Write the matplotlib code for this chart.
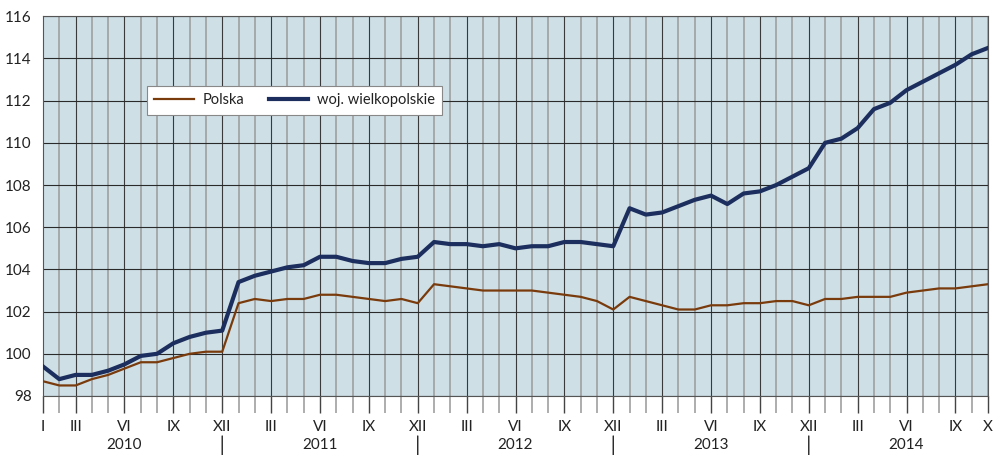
import matplotlib
matplotlib.use("Agg")
import matplotlib.pyplot as plt
import numpy as np

plt.rcParams['font.family'] = ['Lato', 'DejaVu Sans']

# 59 monthly points: I 2010 ... last point of 2014
polska = [98.7, 98.5, 98.5, 98.8, 99.0, 99.3, 99.6, 99.6, 99.8, 100.0, 100.1, 100.1,
          102.4, 102.6, 102.5, 102.6, 102.6, 102.8, 102.8, 102.7, 102.6, 102.5, 102.6, 102.4,
          103.3, 103.2, 103.1, 103.0, 103.0, 103.0, 103.0, 102.9, 102.8, 102.7, 102.5, 102.1,
          102.7, 102.5, 102.3, 102.1, 102.1, 102.3, 102.3, 102.4, 102.4, 102.5, 102.5, 102.3,
          102.6, 102.6, 102.7, 102.7, 102.7, 102.9, 103.0, 103.1, 103.1, 103.2, 103.3]
wlkp = [99.4, 98.8, 99.0, 99.0, 99.2, 99.5, 99.9, 100.0, 100.5, 100.8, 101.0, 101.1,
        103.4, 103.7, 103.9, 104.1, 104.2, 104.6, 104.6, 104.4, 104.3, 104.3, 104.5, 104.6,
        105.3, 105.2, 105.2, 105.1, 105.2, 105.0, 105.1, 105.1, 105.3, 105.3, 105.2, 105.1,
        106.9, 106.6, 106.7, 107.0, 107.3, 107.5, 107.1, 107.6, 107.7, 108.0, 108.4, 108.8,
        110.0, 110.2, 110.7, 111.6, 111.9, 112.5, 112.9, 113.3, 113.7, 114.2, 114.5]

tick_labels = ["I", "III", "VI", "IX", "XII",
               "III", "VI", "IX", "XII",
               "III", "VI", "IX", "XII",
               "III", "VI", "IX", "XII",
               "III", "VI", "IX", "X"]
tick_idx = [0, 2, 5, 8, 11, 14, 17, 20, 23, 26, 29, 32, 35, 38, 41, 44, 47, 50, 53, 56, 58]
years = ["2010", "2011", "2012", "2013", "2014"]
year_idx = [5, 17, 29, 41, 53]
year_sep_idx = [11, 23, 35, 47]

W, H = 994, 455
fig = plt.figure(figsize=(W / 100, H / 100), dpi=100)
ax = fig.add_axes([43 / W, 1 - 396 / H, (988 - 43) / W, (396 - 16.3) / H])
ax.set_facecolor('#CEDFE6')

x = np.arange(len(wlkp))
n = len(x)
ax.set_xlim(0, n - 1)
ax.set_ylim(98, 116)

# grid
major_set = set(range(2, n, 3))
for i in range(n):
    if i in major_set:
        ax.axvline(i, color='#3a3a3a', lw=0.8, zorder=1)
    else:
        ax.axvline(i, color='#9a9a9a', lw=1.1, zorder=1)
for v in range(98, 117, 2):
    ax.axhline(v, color='#2a2a2a', lw=0.8, zorder=1)

ax.plot(x, polska, color='#7A3B0C', lw=1.6, label='Polska', zorder=3)
ax.plot(x, wlkp, color='#1B2E5E', lw=3.0, label='woj. wielkopolskie', zorder=4)

for s in ax.spines.values():
    s.set_color('#555555')
    s.set_linewidth(0.8)

ax.set_yticks(range(98, 117, 2))
ax.tick_params(axis='y', length=0, pad=8, labelsize=11, labelcolor='#222222')
ax.set_xticks(tick_idx)
ax.set_xticklabels(tick_labels)
ax.set_xticks([i for i in range(n) if i not in tick_idx], minor=True)
ax.tick_params(axis='x', which='major', length=12, width=1.0, color='#444444',
               pad=5, labelsize=11, labelcolor='#222222')
ax.tick_params(axis='x', which='minor', length=12, width=1.2, color='#a0a0a0')

for yr, xi in zip(years, year_idx):
    ax.annotate(yr, xy=(xi, 0), xycoords=('data', 'figure pixels'),
                xytext=(0, 10), textcoords='offset pixels',
                ha='center', va='center', fontsize=11, color='#222222')
for xi in year_sep_idx:
    ax.annotate('', xy=(xi, 0), xycoords=('data', 'figure pixels'),
                xytext=(xi, 19), textcoords=('data', 'figure pixels'),
                arrowprops=dict(arrowstyle='-', color='#222222', lw=1.0,
                                shrinkA=0, shrinkB=0))

leg = ax.legend(loc='upper left', bbox_to_anchor=(147 / W, 1 - 86 / H),
                bbox_transform=fig.transFigure, ncol=2, frameon=True,
                fancybox=False, edgecolor='#888888', facecolor='white',
                framealpha=1, fontsize=10.5, handlelength=2.7,
                columnspacing=1.7, borderpad=0.5, handletextpad=0.6,
                borderaxespad=0)
leg.get_frame().set_linewidth(0.8)
for t in leg.get_texts():
    t.set_color('#222222')

fig.savefig('out.png', dpi=100)
